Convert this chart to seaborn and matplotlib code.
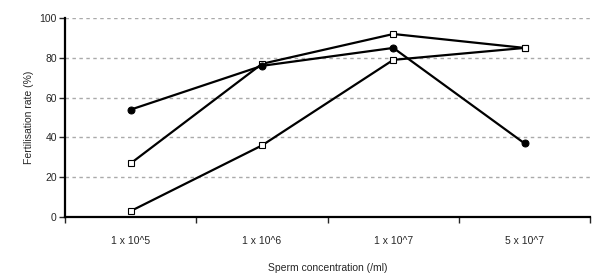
import numpy as np
import pandas as pd
import matplotlib
matplotlib.use("Agg")
import matplotlib.pyplot as plt
import seaborn as sns

# ---------- data ----------
concentrations = ["1 x 10^5", "1 x 10^6", "1 x 10^7", "5 x 10^7"]
series_circle = [54, 76, 85, 37]
series_square_a = [27, 77, 92, 85]
series_square_b = [3, 36, 79, 85]
y_ticks = [0, 20, 40, 60, 80, 100]

sns.set_style("white")
plt.rcParams['font.family'] = ['Liberation Sans', 'DejaVu Sans']
plt.rcParams['font.size'] = 7.5

fig = plt.figure(figsize=(5.92, 2.74), dpi=100)
ax = fig.add_axes([0.110, 0.208, 0.887, 0.726])

for y in y_ticks[1:]:
    ax.axhline(y, color='#aaaaaa', lw=1.0, ls=(0, (2.5, 2.5)), zorder=0)

sns.lineplot(x=concentrations, y=series_square_b, ax=ax, color='black', lw=1.6,
             marker='s', markersize=5, markerfacecolor='white', markeredgecolor='black',
             markeredgewidth=0.8)
sns.lineplot(x=concentrations, y=series_square_a, ax=ax, color='black', lw=1.6,
             marker='s', markersize=5, markerfacecolor='white', markeredgecolor='black',
             markeredgewidth=0.8)
sns.lineplot(x=concentrations, y=series_circle, ax=ax, color='black', lw=1.6,
             marker='o', markersize=5, markerfacecolor='black', markeredgecolor='black')

ax.set_xlim(-0.5, 3.5)
ax.set_ylim(0, 100)
ax.set_yticks(y_ticks)
ax.set_xticks(range(len(concentrations)))
ax.set_xticklabels(concentrations)
ax.set_xticks(np.arange(-0.5, 3.6, 1.0), minor=True)
ax.tick_params(axis='x', which='major', length=0, pad=14)
ax.tick_params(axis='x', which='minor', length=4, width=1, direction='out', bottom=True)
ax.tick_params(axis='y', length=4, width=1, direction='out', left=True, pad=2)

for s in ['top', 'right']:
    ax.spines[s].set_visible(False)
for s in ['left', 'bottom']:
    ax.spines[s].set_linewidth(1.6)
    ax.spines[s].set_color('black')

ax.set_ylabel("Fertilisation rate (%)", labelpad=4)
ax.set_xlabel("Sperm concentration (/ml)", labelpad=12)

fig.savefig("out.png", dpi=100)
